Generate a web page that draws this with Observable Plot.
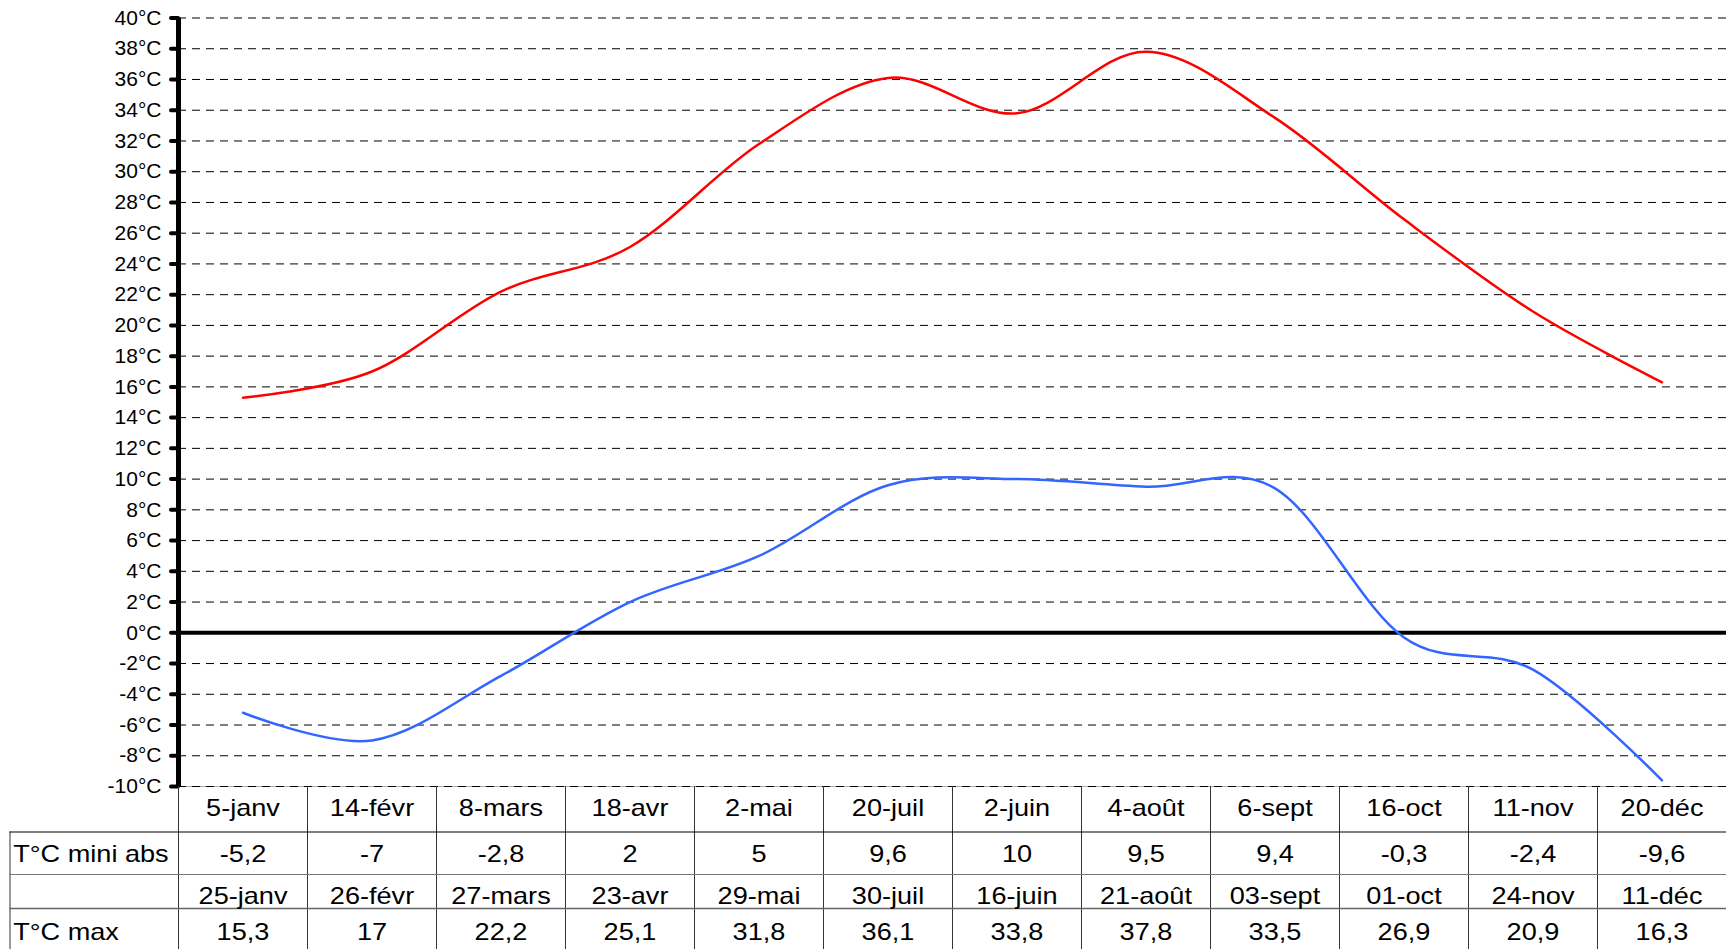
<!DOCTYPE html>
<html><head><meta charset="utf-8">
<script src="https://cdn.jsdelivr.net/npm/d3@7"></script>
<script src="https://cdn.jsdelivr.net/npm/@observablehq/plot@0.6"></script>
<style>
html,body{margin:0;padding:0;background:#fff;}
#chart svg{display:block;overflow:visible;}
</style></head><body><div id="chart"></div>
<script>
// ---- data ----
const minDates = ["5-janv","14-févr","8-mars","18-avr","2-mai","20-juil","2-juin","4-août","6-sept","16-oct","11-nov","20-déc"];
const minTemps = [-5.2,-7,-2.8,2,5,9.6,10,9.5,9.4,-0.3,-2.4,-9.6];
const maxDates = ["25-janv","26-févr","27-mars","23-avr","29-mai","30-juil","16-juin","21-août","03-sept","01-oct","24-nov","11-déc"];
const maxTemps = [15.3,17,22.2,25.1,31.8,36.1,33.8,37.8,33.5,26.9,20.9,16.3];
const rowLabels = ["T°C mini abs", "T°C max"];
const yTicks = d3.range(-10, 41, 2);

// ---- helpers ----
const fmt = v => String(v).replace(".", ",");
const idx = d3.range(minDates.length);
const cx = i => i + 0.5;
const tableFont = 24;
const stretch = 1.13;

const rowTexts = [
  {labels: minDates, dy: 29.5},
  {labels: minTemps.map(fmt), dy: 75.5},
  {labels: maxDates, dy: 117},
  {labels: maxTemps.map(fmt), dy: 153}
];
const rowLines = [
  {dy: 45.5, stroke: "#000", w: 1},
  {dy: 88, stroke: "#777", w: 1},
  {dy: 122, stroke: "#666", w: 1.5}
];

const marks = [
  Plot.ruleY([-10], {stroke: "#aaa", strokeWidth: 1}),
  Plot.ruleY(yTicks.filter(t => t !== 0), {stroke: "#000", strokeWidth: 1, strokeDasharray: "8,6"}),
  Plot.ruleY([0], {stroke: "#000", strokeWidth: 4}),
  Plot.line(idx, {x: cx, y: i => maxTemps[i], stroke: "#ff0000", strokeWidth: 2.5, curve: "cardinal"}),
  Plot.line(idx, {x: cx, y: i => minTemps[i], stroke: "#3366ff", strokeWidth: 2.5, curve: "cardinal"}),
  Plot.ruleX([0], {y1: -10, y2: 40, stroke: "#000", strokeWidth: 5}),
  Plot.axisY(yTicks, {tickFormat: d => `${d}°C`, tickSize: 7, tickPadding: 10, strokeWidth: 4, strokeLinecap: "round", fontSize: 21, label: null}),
  // table vertical lines
  Plot.ruleX(d3.range(0, idx.length + 1), {insetTop: 768.5, insetBottom: -163, stroke: "#333", strokeWidth: 1}),
  Plot.ruleX([0], {dx: -168.5, insetTop: 768.5 + 45.5, insetBottom: -163, stroke: "#333", strokeWidth: 1}),
  ...rowLines.map(r => Plot.ruleY([-10], {dy: r.dy, insetLeft: -168.5, stroke: r.stroke, strokeWidth: r.w})),
  ...rowTexts.map(r => Plot.text(idx, {x: cx, text: i => r.labels[i], frameAnchor: "bottom", dy: r.dy, fontSize: tableFont, fill: "#000"})),
  Plot.text([rowLabels[0]], {text: d => d, frameAnchor: "bottom-left", textAnchor: "start", dx: -165.3, dy: rowTexts[1].dy, fontSize: tableFont, fill: "#000"}),
  Plot.text([rowLabels[1]], {text: d => d, frameAnchor: "bottom-left", textAnchor: "start", dx: -165.3, dy: rowTexts[3].dy, fontSize: tableFont, fill: "#000"})
];

const chart = Plot.plot({
  width: 1726,
  height: 949,
  marginLeft: 178,
  marginRight: 0,
  marginTop: 17.5,
  marginBottom: 163,
  style: {fontFamily: '"Liberation Sans", Arial, sans-serif', background: "#fff", color: "#000"},
  x: {domain: [0, idx.length], axis: null},
  y: {domain: [-10, 40]},
  marks
});
document.getElementById("chart").appendChild(chart);

// horizontal stretch of table text (reference text is wider than Arial)
d3.select(chart).selectAll('g[aria-label="text"] text').each(function() {
  const t = this.getAttribute("transform");
  if (t) {
    this.setAttribute("transform", t + ` scale(${stretch},1)`);
  } else {
    const x = +this.getAttribute("x") || 0, y = +this.getAttribute("y") || 0;
    this.removeAttribute("x"); this.removeAttribute("y");
    this.setAttribute("transform", `translate(${x},${y}) scale(${stretch},1)`);
  }
});
</script></body></html>
